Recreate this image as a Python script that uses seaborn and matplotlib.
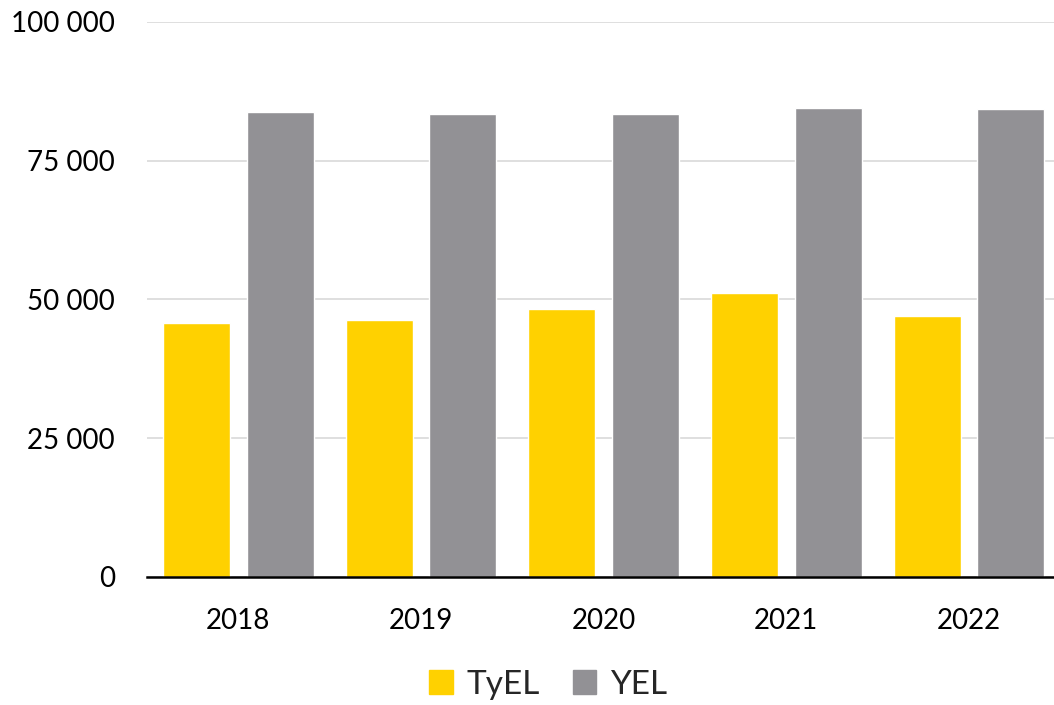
import pandas as pd
import numpy as np
import seaborn as sns
import matplotlib.pyplot as plt
from matplotlib.ticker import FuncFormatter

# ---- data ----
years = ['2018', '2019', '2020', '2021', '2022']
tyel = [45800, 46300, 48300, 51200, 47000]
yel = [83700, 83400, 83500, 84500, 84400]
series_names = ['TyEL', 'YEL']
colors = ['#FFD100', '#929195']

df = pd.DataFrame({
    'Year': years * 2,
    'Value': tyel + yel,
    'Series': [series_names[0]] * len(years) + [series_names[1]] * len(years),
})

sns.set_style('white')
plt.rcParams['font.family'] = ['Lato', 'DejaVu Sans']

fig = plt.figure(figsize=(10.54, 7.05), dpi=100)
ax = fig.add_axes([0.1395, 0.1816, 0.8665, 0.7872])

sns.barplot(data=df, x='Year', y='Value', hue='Series', palette=colors,
            width=0.918, gap=0.2, ax=ax, legend=True, saturation=1)

ax.set_ylim(0, 100000)
ax.set_xlim(-0.5, len(years) - 0.5)
ax.set_yticks([0, 25000, 50000, 75000, 100000])
ax.yaxis.set_major_formatter(FuncFormatter(lambda v, p: f"{int(v):,}".replace(',', ' ')))
ax.grid(axis='y', color='#D9D9D9', linewidth=1.2)
ax.set_axisbelow(True)
for s in ['top', 'right', 'left']:
    ax.spines[s].set_visible(False)
ax.spines['bottom'].set_color('black')
ax.spines['bottom'].set_linewidth(1.8)
ax.tick_params(axis='both', length=0, labelsize=20, colors='black')
ax.tick_params(axis='y', pad=23)
ax.tick_params(axis='x', pad=22)
ax.set_xlabel('')
ax.set_ylabel('')

ax.legend_.remove()
handles = [plt.Rectangle((0, 0), 1, 1, color=c) for c in colors]
fig.legend(handles, series_names, loc='lower center', bbox_to_anchor=(0.52, -0.035),
           ncol=2, frameon=False, fontsize=24, handlelength=0.7, handleheight=0.7,
           handletextpad=0.4, columnspacing=1.0)

fig.savefig('out.png', dpi=100)
